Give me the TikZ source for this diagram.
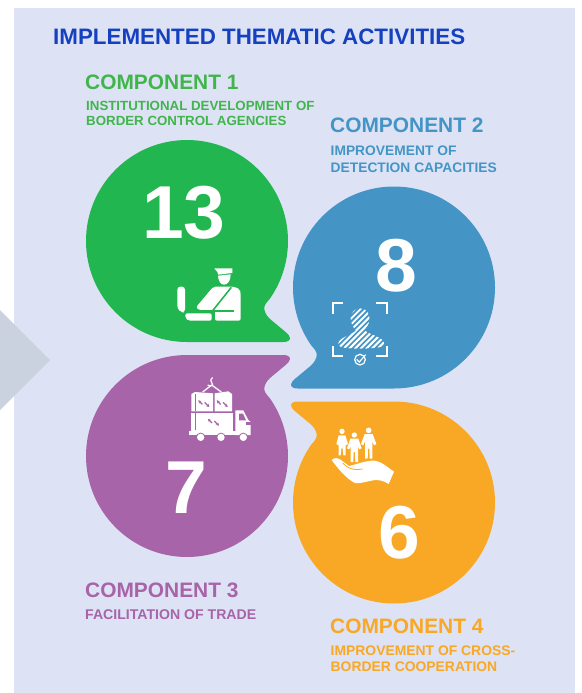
\documentclass[tikz,border=0pt]{standalone}
\usepackage{fontspec}
\usetikzlibrary{arrows.meta}
\setmainfont{Liberation Sans}
\definecolor{panel}{HTML}{DDE3F5}
\definecolor{arrowgrey}{HTML}{C9D2DE}
\definecolor{titleblue}{HTML}{1540C0}
\definecolor{cgreen}{HTML}{22B650}
\definecolor{tgreen}{HTML}{41B54C}
\definecolor{cblue}{HTML}{4495C6}
\definecolor{cpurple}{HTML}{A764A8}
\definecolor{corange}{HTML}{F9A825}
\tikzset{
  x=1pt,y=-1pt,
  lbl/.style={anchor=base west,inner sep=0pt,font=\bfseries},
  comp/.style={lbl,font=\fontsize{20.9}{22}\bfseries},
  sub/.style={lbl,font=\fontsize{#1}{14}\bfseries},
  num/.style={anchor=base,inner sep=0pt,text=white,font=\fontsize{75}{75}\bfseries},
  icon/.style={fill=white,draw=none},
  thinw/.style={draw=white,line width=1.2pt,fill=none}
}
\newcommand{\bubbleshape}[3]{%
  \fill[#1,shift={(#2)},#3] (0,-101) arc[start angle=-90,end angle=35,radius=101]
    .. controls (80,61) and (76,65) .. (77.5,69)
    .. controls (78.5,73) and (80,75) .. (83,78)
    -- (98,90.5)
    .. controls (101,93) and (103,95) .. (103,97)
    .. controls (103,100) and (100,101) .. (96,101)
    -- (0,101)
    arc[start angle=90,end angle=270,radius=101] -- cycle;}
\begin{document}
\begin{tikzpicture}
\useasboundingbox (0,0) rectangle (581,693);
\fill[white] (0,0) rectangle (581,693);
\fill[panel] (14,8) rectangle (575,693);
\fill[arrowgrey] (0,310) -- (50,360) -- (0,410) -- cycle;

\bubbleshape{cgreen}{187,241}{}
\bubbleshape{cblue}{394,287.5}{xscale=-1}
\bubbleshape{cpurple}{187,456}{yscale=-1}
\bubbleshape{corange}{394,502.5}{xscale=-1,yscale=-1}

\node[lbl,text=titleblue,font=\fontsize{22.36}{24}\bfseries] (title) at (53,45) {IMPLEMENTED THEMATIC ACTIVITIES};
\node[comp,text=tgreen] (c1) at (85,89) {COMPONENT 1};
\node[sub=13.3,text=tgreen] (c1a) at (86,110) {INSTITUTIONAL DEVELOPMENT OF};
\node[sub=13.3,text=tgreen] (c1b) at (86,125) {BORDER CONTROL AGENCIES};
\node[comp,text=cblue] (c2) at (330,132) {COMPONENT 2};
\node[sub=13.8,text=cblue] (c2a) at (330.5,155) {IMPROVEMENT OF};
\node[sub=13.8,text=cblue] (c2b) at (330.5,172) {DETECTION CAPACITIES};
\node[comp,text=cpurple] (c3) at (85,597) {COMPONENT 3};
\node[sub=14.1,text=cpurple] (c3a) at (85,619) {FACILITATION OF TRADE};
\node[comp,text=corange] (c4) at (330,633) {COMPONENT 4};
\node[sub=13.9,text=corange] (c4a) at (330.5,655) {IMPROVEMENT OF CROSS-};
\node[sub=13.9,text=corange] (c4b) at (330.5,671) {BORDER COOPERATION};

\node[num] (n1) at (184,238.5) {13};
\node[num] (n2) at (396,291.5) {8};
\node[num] (n3) at (186,513.5) {7};
\node[num] (n4) at (399,558.5) {6};

% officer icon (green)
\begin{scope}[shift={(160,250)},scale=1/3]
  \fill[icon] (163,55) -- (217,55) -- (217,69) -- (208,70) -- (175,74) -- (172,66) -- cycle;
  \fill[icon] (174,77) -- (212,73) .. controls (212,92) and (204,104) .. (192,104) .. controls (181,104) and (175,92) .. (174,77) -- cycle;
  \fill[icon,rounded corners=3pt] (52,110) -- (75,110) -- (75,187) -- (64,187) -- (52,176) -- cycle;
  \fill[icon,rounded corners=2pt] (76,190) -- (155,190) -- (155,212) -- (85,212) -- (76,205) -- cycle;
  \fill[icon,rounded corners=2pt] (108,172) -- (160,110) -- (222,110) -- (240,118) -- (242,132) -- (242,212) -- (165,212) -- (165,181) -- (118,181) -- cycle;
  \draw[cgreen,line width=1.5pt] (214,112) -- (158,182);
  \draw[cgreen,line width=1.3pt] (105,183) -- (223,183);
\end{scope}

% scanner icon (blue)
\begin{scope}[shift={(320,290)},scale=1/3]
  \draw[white,line width=2.2pt] (70,40) -- (39,40) -- (39,71);
  \draw[white,line width=2.2pt] (168,40) -- (201,40) -- (201,71);
  \draw[white,line width=2.2pt] (39,168) -- (39,199) -- (70,199);
  \draw[white,line width=2.2pt] (201,168) -- (201,199) -- (168,199);
  \begin{scope}
    \clip (120,55) .. controls (140,55) and (150,72) .. (148,90)
      .. controls (146,105) and (138,112) .. (134,122)
      .. controls (150,135) and (190,142) .. (192,160)
      .. controls (192,170) and (180,175) .. (120,175)
      .. controls (70,175) and (55,172) .. (55,160)
      .. controls (58,142) and (95,135) .. (108,122)
      .. controls (98,110) and (92,98) .. (92,85)
      .. controls (92,68) and (105,55) .. (120,55) -- cycle;
    \foreach \k in {0,...,17} {
      \draw[white,line width=1.8pt] (40+\k*17,190) -- (40+\k*17+140,50);
      \draw[white,line width=1.8pt] (-96+\k*17,190) -- (-96+\k*17+140,50);
    }
  \end{scope}
  \draw[thinw] (120,209) circle[radius=16];
  \draw[thinw] (110,208) -- (118,216) -- (137,194);
\end{scope}

% truck icon (purple)
\begin{scope}[shift={(160,250)},scale=1/3]
  \draw[white,line width=1.2pt,fill=none] (158,383) .. controls (150,388) and (152,396) .. (156,400) .. controls (162,405) and (150,412) .. (143,405);
  \draw[white,line width=1.3pt] (155,405) -- (128,426) (155,405) -- (184,426);
  \fill[icon] (94,432) -- (105,426) -- (159,430) -- (159,484) -- (94,484) -- cycle;
  \fill[icon] (164,430) -- (205,424) -- (216,432) -- (216,484) -- (164,484) -- cycle;
  \fill[icon] (94,490) -- (218,490) -- (218,544) -- (94,544) -- cycle;
  \draw[cpurple,line width=0.8pt] (107,432) -- (107,484) (107,490) -- (107,541);
  \fill[icon] (88,543) -- (228,543) -- (228,555) -- (88,555) -- cycle;
  \fill[icon] (226,481) -- (250,481) -- (265,510) -- (272,516) -- (272,555) -- (226,555) -- cycle;
  \fill[cpurple] (237,491) -- (249,491) -- (258,511) -- (237,511) -- cycle;
  \fill[cpurple] (258,516) rectangle (272,525);
  \foreach \p/\q in {122/562,183/562,250/562} {
    \fill[cpurple] (\p,\q) circle[radius=14];
    \fill[white] (\p,\q) circle[radius=11];
  }
  \foreach \a/\b in {115/451,170/451,144/507} {
    \draw[cpurple,line width=1.2pt,-{Stealth[length=3pt,width=3.4pt]}] (\a+12,\b+12) -- (\a,\b);
    \draw[cpurple,line width=1.2pt,-{Stealth[length=3pt,width=3.4pt]}] (\a+19,\b+6) -- (\a+33,\b+20);
  }
\end{scope}

% people in hand icon (orange)
\begin{scope}[shift={(325,420)},scale=1/3]
  \fill[icon] (51,34) circle[radius=8];
  \fill[icon] (41,46) -- (61,46) -- (69,72) -- (62,76) -- (62,106) -- (55,106) -- (53,85) -- (49,85) -- (47,106) -- (41,106) -- (41,76) -- (34,72) -- cycle;
  \fill[icon] (88,45) circle[radius=8];
  \fill[icon] (76,56) -- (100,56) -- (110,85) -- (103,88) -- (99,78) -- (99,126) -- (91,126) -- (90,96) -- (86,96) -- (85,126) -- (77,126) -- (77,78) -- (73,88) -- (66,85) -- cycle;
  \fill[icon] (131,31) circle[radius=8.5];
  \fill[icon] (119,42) -- (143,42) -- (154,72) -- (147,76) -- (142,64) -- (142,116) -- (134,116) -- (133,86) -- (129,86) -- (128,116) -- (120,116) -- (120,64) -- (115,76) -- (108,72) -- cycle;
  \fill[icon] (20,120) .. controls (28,112) and (38,113) .. (48,120)
     -- (72,138) .. controls (92,134) and (115,124) .. (140,122)
     .. controls (165,120) and (185,140) .. (207,155)
     -- (191,192) .. controls (175,182) and (165,180) .. (150,180)
     .. controls (125,184) and (105,192) .. (90,189)
     .. controls (65,177) and (40,147) .. (20,120) -- cycle;
  \draw[corange,line width=0.8pt,line cap=round] (54,130) .. controls (62,138) and (68,143) .. (78,146) .. controls (88,149) and (100,149) .. (112,147);
\end{scope}
\end{tikzpicture}
\end{document}
